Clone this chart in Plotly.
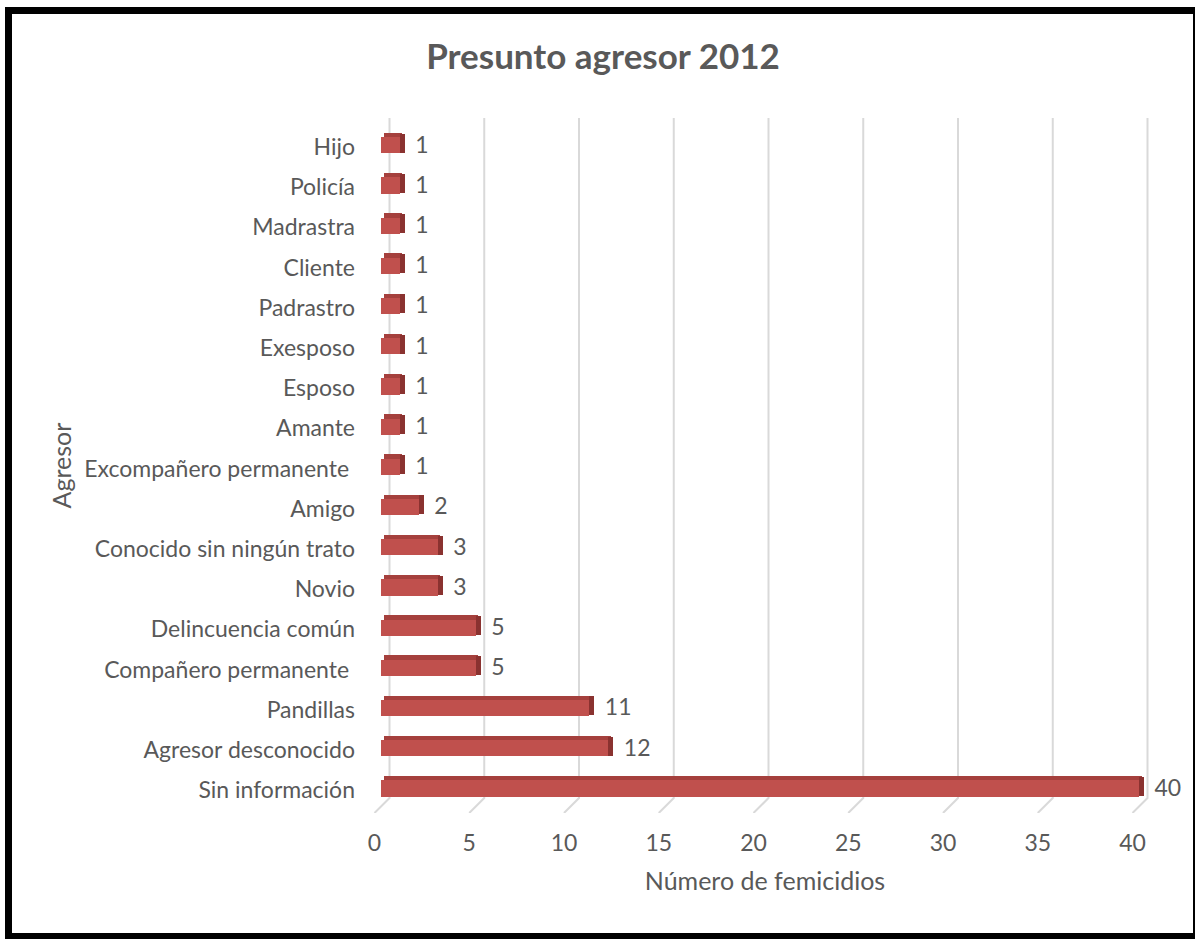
import plotly.graph_objects as go

# ---- data ----
categories = ["Hijo", "Policía", "Madrastra", "Cliente", "Padrastro", "Exesposo",
              "Esposo", "Amante", "Excompañero permanente ", "Amigo",
              "Conocido sin ningún trato", "Novio", "Delincuencia común",
              "Compañero permanente ", "Pandillas", "Agresor desconocido",
              "Sin información"]
values = [1, 1, 1, 1, 1, 1, 1, 1, 1, 2, 3, 3, 5, 5, 11, 12, 40]
x_ticks = [0, 5, 10, 15, 20, 25, 30, 35, 40]
title_text = "Presunto agresor 2012"
x_title = "Número de femicidios"
y_title = "Agresor"

# ---- style ----
FACE = "#C0504D"
TOP = "#A5403D"
SIDE = "#8A3230"
GRID = "#D9D9D9"
TXT = "#595959"
FONT = "Lato, 'Open Sans', sans-serif"
TS = 23

W, H = 1195, 939
L, R = 370, 1160          # plot area pixels
T, B = 118, 813
PXU = 18.95               # pixels per unit on x
x0_px = 381
xr = [-(x0_px - L) / PXU, 40 + (R - (x0_px + 40 * PXU)) / PXU]
back = 8.5 / PXU          # 3D wall shift
front = -6.5 / PXU        # 3D floor front shift
depth = 5 / PXU
floor_frac = 15 / (B - T)

fig = go.Figure()

# gridlines of the 3D back wall + floor diagonals (main y axis 0..1)
gx, gy = [], []
for t in x_ticks:
    gx += [t + back, t + back, t + front, None]
    gy += [1, floor_frac, 0, None]
fig.add_trace(go.Scatter(x=gx, y=gy, mode="lines", xaxis="x", yaxis="y",
                         line=dict(color=GRID, width=2), hoverinfo="skip",
                         showlegend=False, cliponaxis=False))

# bars on categorical overlay axis
fig.add_trace(go.Bar(y=categories, x=values, base=0, orientation="h",
                     xaxis="x", yaxis="y2", width=0.40, offset=-0.24,
                     marker=dict(color=FACE, line=dict(width=0)),
                     showlegend=False, cliponaxis=False))
fig.add_trace(go.Bar(y=categories, x=values, base=depth / 2, orientation="h",
                     xaxis="x", yaxis="y2", width=0.11, offset=-0.35,
                     marker=dict(color=TOP, line=dict(width=0)),
                     showlegend=False, cliponaxis=False))
fig.add_trace(go.Bar(y=categories, x=[depth] * len(values), base=values,
                     orientation="h", xaxis="x", yaxis="y2", width=0.47,
                     offset=-0.33,
                     marker=dict(color=SIDE, line=dict(width=0)),
                     showlegend=False, cliponaxis=False))
fig.add_trace(go.Scatter(y=categories, x=[v + depth + 0.55 for v in values],
                         mode="text", text=[str(v) for v in values],
                         textposition="middle right", xaxis="x", yaxis="y2",
                         textfont=dict(family=FONT, size=TS, color=TXT),
                         showlegend=False, cliponaxis=False, hoverinfo="skip"))

# outer black frame
fx0 = (8.5 - L) / (R - L)
fx1 = (1196.5 - L) / (R - L)
fy0 = (B - 936.5) / (B - T)
fy1 = (B - 10.5) / (B - T)
fig.add_shape(type="rect", xref="paper", yref="paper", x0=fx0, x1=fx1,
              y0=fy0, y1=fy1, line=dict(color="black", width=7),
              fillcolor="rgba(0,0,0,0)", layer="above")

fig.update_layout(
    width=W, height=H,
    margin=dict(l=L, r=W - R, t=T, b=H - B, pad=0, autoexpand=False),
    paper_bgcolor="white", plot_bgcolor="white",
    barmode="overlay", bargap=0,
    font=dict(family=FONT, color=TXT, size=TS),
    title=dict(text=title_text, x=603 / W, xanchor="center",
               y=1 - 57 / H, yanchor="middle", xref="container", yref="container",
               font=dict(family=FONT, size=35, color=TXT, weight="bold")),
    xaxis=dict(range=xr, showgrid=False, zeroline=False, showline=False,
               automargin=False,
               tickvals=[t + front for t in x_ticks],
               ticktext=[str(t) for t in x_ticks],
               ticks="", ticklabelstandoff=14,
               tickfont=dict(family=FONT, size=TS, color=TXT),
               title=dict(text=x_title, standoff=17,
                          font=dict(family=FONT, size=25, color=TXT))),
    yaxis=dict(range=[0, 1], visible=False, fixedrange=True, automargin=False),
    yaxis2=dict(overlaying="y", side="left", type="category",
                automargin=False,
                categoryorder="array", categoryarray=categories,
                range=[16.57, -0.72], showgrid=False, zeroline=False,
                showline=False, ticks="", ticklabelstandoff=14,
                tickfont=dict(family=FONT, size=TS, color=TXT),
                title=dict(text=y_title, standoff=5,
                           font=dict(family=FONT, size=25, color=TXT))),
)

fig.write_html("out.html", config={"displayModeBar": False},
               post_script="document.body.style.margin='0';")
